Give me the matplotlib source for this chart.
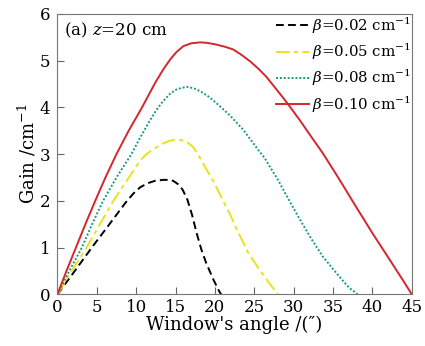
import matplotlib
matplotlib.use("Agg")
import matplotlib.pyplot as plt

plt.rcParams['font.family'] = ['DejaVu Serif']
plt.rcParams['mathtext.fontset'] = 'dejavuserif'

# beta = 0.02 cm^-1
x1 = [0, 2.2, 4.36, 6.6, 8.6, 9.6, 10.5, 11.5, 12.4, 13.4, 14.2, 14.7, 15.3, 15.9, 16.5, 17.1, 17.7,
      18.3, 18.9, 19.8, 20.6, 20.8]
y1 = [0, 0.5, 1.0, 1.5, 1.95, 2.15, 2.29, 2.38, 2.43, 2.45, 2.45, 2.43, 2.36, 2.24, 2.03, 1.7, 1.3,
      0.95, 0.67, 0.32, 0.05, 0]
# beta = 0.05 cm^-1
x2 = [0, 1.8, 3.7, 5.4, 7.1, 8.6, 10.5, 11.3, 12.2, 13.3, 14.3, 15.3, 16.3, 17.2, 18.0, 18.9, 19.8,
      20.6, 21.9, 22.7, 24.2, 25.7, 27.0, 28.0]
y2 = [0, 0.5, 1.0, 1.5, 2.0, 2.38, 2.86, 3.0, 3.11, 3.22, 3.29, 3.31, 3.28, 3.16, 2.95, 2.68, 2.42,
      2.15, 1.72, 1.42, 0.9, 0.52, 0.22, 0]
# beta = 0.08 cm^-1
x3 = [0, 1.5, 3.1, 4.4, 5.8, 7.5, 9.4, 10.5, 11.75, 12.6, 13.4, 14.3, 15.2, 16.4, 17.3, 18.2, 19.2,
      20.2, 21.9, 23.6, 25.5, 26.3, 28.0, 29.5, 30.8, 32.2, 33.7, 35.8, 37.0, 37.9, 38.1]
y3 = [0, 0.5, 1.0, 1.5, 2.0, 2.5, 3.0, 3.35, 3.72, 3.95, 4.13, 4.29, 4.39, 4.44, 4.41, 4.34, 4.23,
      4.09, 3.83, 3.52, 3.09, 2.92, 2.45, 1.99, 1.60, 1.2, 0.81, 0.38, 0.15, 0.03, 0]
# beta = 0.10 cm^-1
x4 = [0, 1.15, 2.35, 3.55, 4.8, 6.1, 7.5, 9.05, 10.75, 12.4, 13.4, 14.3, 15.1, 16.0, 17.0, 18.1,
      19.0, 20.0, 21.2, 22.3, 23.4, 24.5, 25.5, 26.5, 28.5, 29.5, 30.8, 32.2, 33.7, 35.8, 37.9,
      40.0, 42.2, 44.0, 45]
y4 = [0, 0.5, 1.0, 1.5, 2.0, 2.5, 3.0, 3.5, 4.0, 4.52, 4.8, 5.02, 5.18, 5.31, 5.37, 5.39,
      5.38, 5.35, 5.30, 5.24, 5.12, 4.98, 4.83, 4.66, 4.24, 4.02, 3.72, 3.38, 3.02, 2.46, 1.88,
      1.31, 0.74, 0.27, 0]

labels = [r'$\beta$=0.02 cm$^{-1}$', r'$\beta$=0.05 cm$^{-1}$',
          r'$\beta$=0.08 cm$^{-1}$', r'$\beta$=0.10 cm$^{-1}$']

fig = plt.figure(figsize=(4.25, 3.46), dpi=100)
ax = fig.add_axes([0.135, 0.149, 0.834, 0.811])

ax.plot(x1, y1, color='black', lw=1.4, dashes=(4, 2.2), label=labels[0])
ax.plot(x2, y2, color='#ebe21a', lw=1.4, dashes=(7, 2.2, 2.2, 2.2), label=labels[1])
ax.plot(x3, y3, color='#1a9a78', lw=1.4, dashes=(1, 1), label=labels[2])
ax.plot(x4, y4, color='#d4262c', lw=1.4, label=labels[3])

ax.set_xlim(0, 45)
ax.set_ylim(0, 6)
ax.set_xticks(range(0, 46, 5))
ax.set_yticks(range(0, 7))
ax.tick_params(direction='in', length=5, labelsize=12, color='#666666')
ax.tick_params(axis='x', pad=3)
ax.tick_params(axis='y', pad=5)
for s in ax.spines.values():
    s.set_color('#777777')

ax.set_xlabel("Window's angle /(″)", fontsize=13, labelpad=0)
ax.set_ylabel('Gain /cm$^{-1}$', fontsize=13, labelpad=1)
ax.text(0.02, 0.975, '(a) $z$=20 cm', transform=ax.transAxes, fontsize=12, va='top', ha='left')

ax.legend(loc='upper right', frameon=False, fontsize=10.8, handlelength=2.2, handletextpad=0.2,
          labelspacing=0.4, borderaxespad=0.0, borderpad=0.1)

fig.savefig('out.png', dpi=100)
